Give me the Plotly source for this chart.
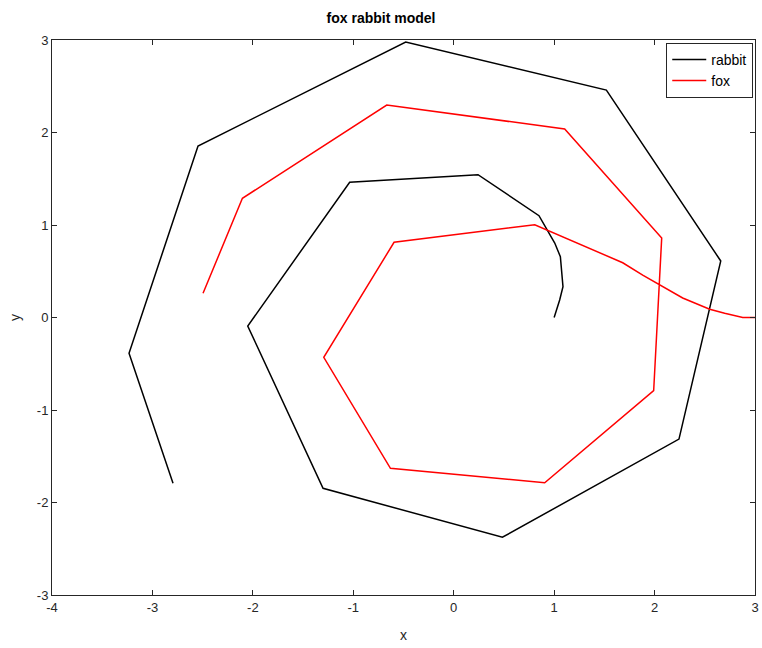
import plotly.graph_objects as go

# Trajectories of the fox-rabbit pursuit model
rabbit_x = [1.0, 1.055, 1.088, 1.062, 1.006, 0.849, 0.242, -1.036, -2.051, -1.301,
            0.485, 2.243, 2.659, 1.520, -0.478, -2.546, -3.233, -2.795]
rabbit_y = [0.0, 0.189, 0.333, 0.657, 0.805, 1.101, 1.544, 1.462, -0.092, -1.846,
            -2.376, -1.314, 0.611, 2.459, 2.978, 1.854, -0.387, -1.792]

fox_x = [3.0, 2.878, 2.698, 2.549, 2.280, 2.051, 1.882, 1.683, 0.807, -0.594,
         -1.294, -0.630, 0.906, 1.991, 2.071, 1.105, -0.667, -2.104, -2.496]
fox_y = [0.0, 0.0, 0.045, 0.089, 0.211, 0.351, 0.459, 0.592, 1.003, 0.813,
         -0.430, -1.630, -1.786, -0.791, 0.859, 2.038, 2.297, 1.289, 0.262]

x_ticks = [-4, -3, -2, -1, 0, 1, 2, 3]
y_ticks = [-3, -2, -1, 0, 1, 2, 3]

font_family = "Liberation Sans, Arial, sans-serif"
axis_color = "#262626"

fig = go.Figure()
fig.add_trace(go.Scatter(x=rabbit_x, y=rabbit_y, mode="lines", name="rabbit",
                         line=dict(color="black", width=1.5)))
fig.add_trace(go.Scatter(x=fox_x, y=fox_y, mode="lines", name="fox",
                         line=dict(color="#ff0000", width=1.5)))

axis_common = dict(
    showgrid=False, zeroline=False, showline=True, linecolor=axis_color, linewidth=1,
    mirror="ticks", ticks="inside", ticklen=5, tickcolor=axis_color,
    tickfont=dict(family=font_family, size=13, color=axis_color),
    automargin=False,
)

fig.update_layout(
    width=762, height=648,
    margin=dict(l=52, r=7, t=40, b=53),
    paper_bgcolor="white", plot_bgcolor="white",
    title=dict(text="<b>fox rabbit model</b>", x=0.5, xanchor="center", y=0.972, yanchor="middle",
               font=dict(family=font_family, size=14, color="black")),
    xaxis=dict(range=[-4, 3], tickvals=x_ticks, ticktext=[str(v) for v in x_ticks],
               title=dict(text="x", font=dict(family=font_family, size=14, color=axis_color), standoff=16),
               **axis_common),
    yaxis=dict(range=[-3, 3], tickvals=y_ticks, ticktext=[str(v) for v in y_ticks],
               title=dict(text="y", font=dict(family=font_family, size=14, color=axis_color), standoff=12),
               **axis_common),
    legend=dict(x=0.9975, y=0.995, xanchor="right", yanchor="top",
                bordercolor=axis_color, borderwidth=1, bgcolor="white",
                font=dict(family=font_family, size=14, color="black"),
                tracegroupgap=2, itemwidth=34),
    showlegend=True,
)

fig.write_html("out.html")
